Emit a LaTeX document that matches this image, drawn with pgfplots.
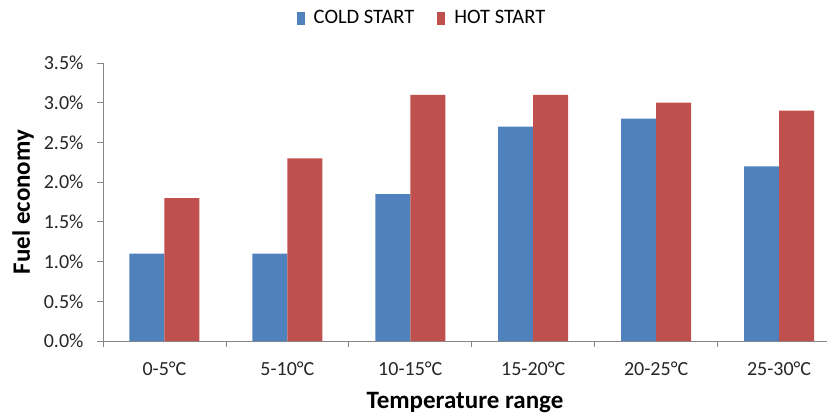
\documentclass[border=0pt]{standalone}
\usepackage{fontspec}
\setmainfont{Carlito}
\usepackage{pgfplots}
\pgfplotsset{compat=1.18}

\definecolor{coldblue}{HTML}{4F81BD}
\definecolor{hotred}{HTML}{C0504D}
\definecolor{axisgray}{HTML}{868686}

\begin{document}
\begin{tikzpicture}
\begin{axis}[
    at={(0pt,0pt)}, anchor=south west,
    scale only axis,
    width=724pt, height=278pt,
    ybar=0pt, bar width=35pt,
    xmin=-0.5, xmax=5.39,
    ymin=0, ymax=3.5,
    axis x line*=bottom, axis y line*=left,
    axis line style={axisgray, line width=0.8pt},
    separate axis lines,
    x axis line style={-}, y axis line style={-},
    xtick={0,1,2,3,4,5},
    xticklabels={0-5°C,5-10°C,10-15°C,15-20°C,20-25°C,25-30°C},
    major x tick style={draw=none},
    minor xtick={-0.5,0.5,1.5,2.5,3.5,4.5},
    minor tick length=6pt,
    minor x tick style={axisgray, line width=0.8pt},
    ytick={0,0.5,1,1.5,2,2.5,3,3.5},
    major tick length=6pt,
    y tick style={axisgray, line width=0.8pt},
    tick align=outside,
    yticklabel={\pgfmathprintnumber[fixed,fixed zerofill,precision=1]{\tick}\%},
    /pgf/number format/assume math mode=true,
    tick label style={font=\fontsize{20}{23}\selectfont, text=black!85},
    xticklabel style={yshift=-11pt},
    yticklabel style={xshift=-10pt},
    xlabel={Temperature range},
    ylabel={Fuel economy},
    label style={font=\fontsize{25}{28}\selectfont\bfseries},
    xlabel style={at={(axis description cs:0.5,0)}, anchor=base, yshift=-67pt},
    ylabel style={at={(axis description cs:0,0.5)}, anchor=base, yshift=73pt},
    legend style={at={(319pt,323pt)}, anchor=center, draw=none,
        font=\fontsize{20.5}{23}\selectfont, legend columns=2,
        /tikz/every even column/.append style={column sep=21pt}},
    legend image code/.code={\fill[#1] (0pt,-6.5pt) rectangle (8pt,6.5pt);
        \path (15pt,0pt);},
    clip=false,
]
\addplot[fill=coldblue, draw=none] coordinates {
    (0,1.1) (1,1.1) (2,1.85) (3,2.7) (4,2.8) (5,2.2)
};
\addplot[fill=hotred, draw=none] coordinates {
    (0,1.8) (1,2.3) (2,3.1) (3,3.1) (4,3.0) (5,2.9)
};
\legend{COLD START, HOT START}
\end{axis}
\pgfresetboundingbox
\path (-103pt,-75pt) rectangle (725pt,341pt);
\end{tikzpicture}
\end{document}
